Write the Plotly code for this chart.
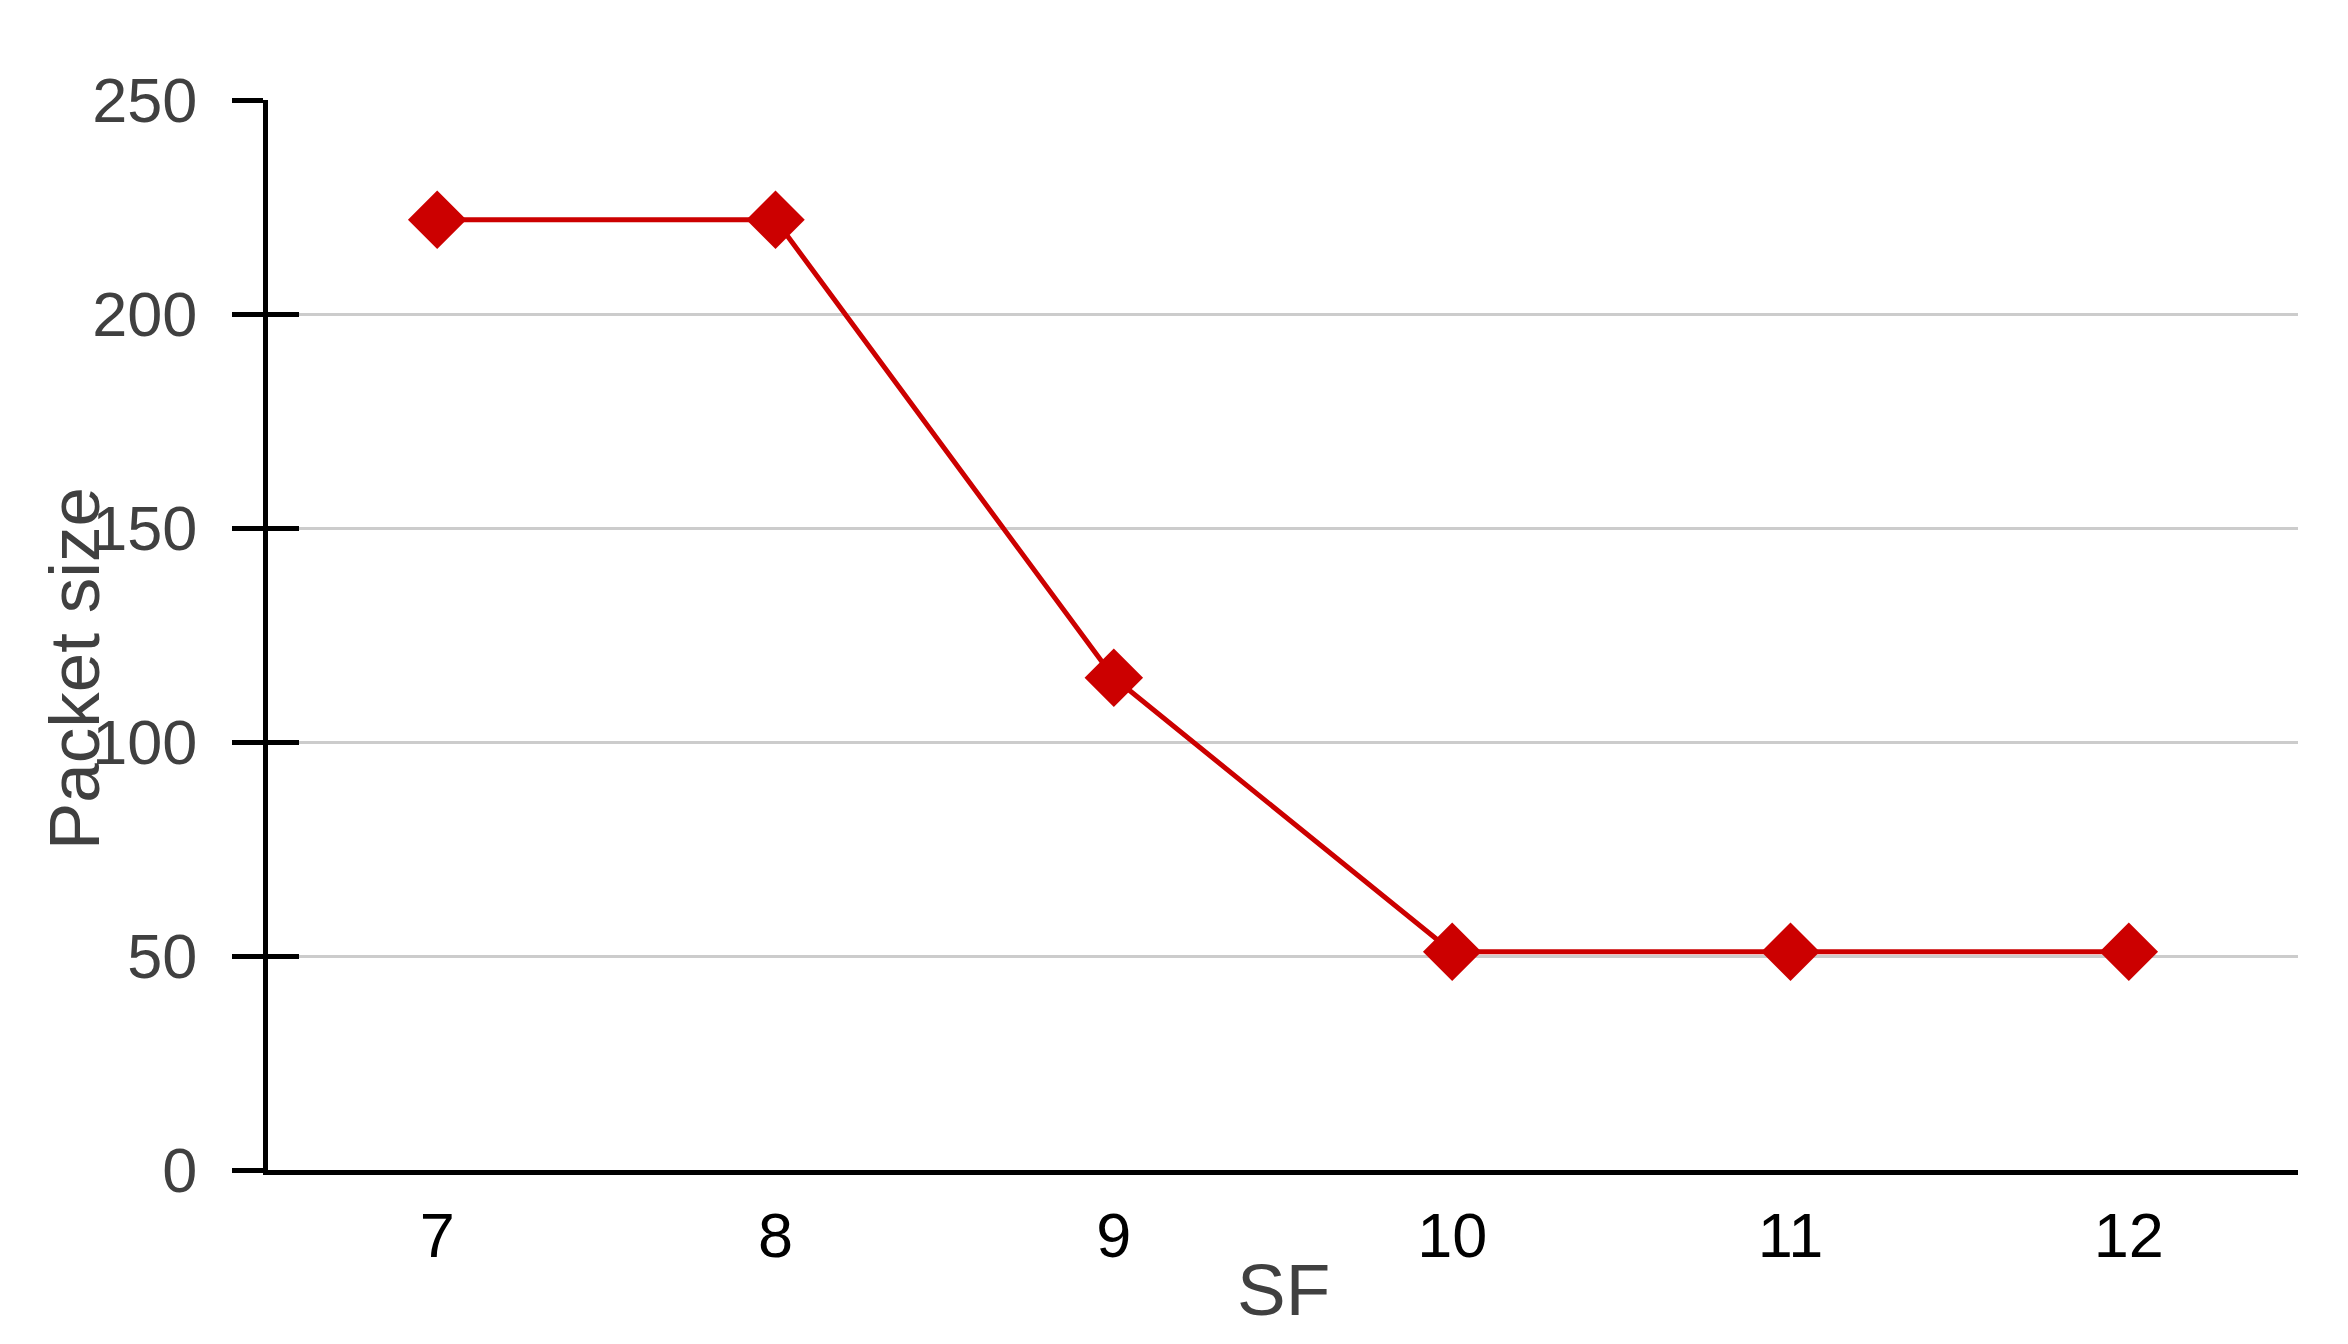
"""Packet size vs spreading factor line chart."""

import plotly.graph_objects as go

SF_VALUES = [7, 8, 9, 10, 11, 12]
PACKET_SIZE = [222, 222, 115, 51, 51, 51]
Y_TICKS = [0, 50, 100, 150, 200, 250]

RED = "#CC0000"
GREY_TEXT = "#404040"
FONT = "Liberation Sans, Arial, sans-serif"

fig = go.Figure()
fig.add_trace(
    go.Scatter(
        x=SF_VALUES,
        y=PACKET_SIZE,
        mode="lines+markers",
        line=dict(color=RED, width=5),
        marker=dict(symbol="diamond", size=45, color=RED),
        showlegend=False,
        hoverinfo="x+y",
    )
)
# invisible copy so the overlay axis (inside half of the y ticks) is drawn
fig.add_trace(
    go.Scatter(
        x=SF_VALUES,
        y=PACKET_SIZE,
        yaxis="y2",
        mode="lines",
        opacity=0,
        showlegend=False,
        hoverinfo="skip",
    )
)

fig.update_layout(
    width=2348,
    height=1344,
    paper_bgcolor="white",
    plot_bgcolor="white",
    font=dict(family=FONT),
    margin=dict(l=260, r=58, t=92, b=182),
    xaxis=dict(
        range=[6.5, 12.5],
        tickvals=SF_VALUES,
        ticks="",
        showgrid=False,
        zeroline=False,
        showline=True,
        linecolor="black",
        linewidth=5,
        tickfont=dict(size=63, color="black", family=FONT),
        ticklabelstandoff=6,
    ),
    yaxis=dict(
        range=[0, 250],
        tickvals=Y_TICKS,
        ticks="outside",
        ticklen=31,
        tickwidth=5,
        tickcolor="black",
        showline=True,
        linecolor="black",
        linewidth=5,
        showgrid=True,
        gridcolor="#cccccc",
        gridwidth=3,
        zeroline=False,
        tickfont=dict(size=63, color=GREY_TEXT, family=FONT),
        ticklabelstandoff=22,
    ),
    yaxis2=dict(
        range=[0, 250],
        tickvals=Y_TICKS,
        overlaying="y",
        side="left",
        ticks="inside",
        ticklen=31,
        tickwidth=5,
        tickcolor="black",
        showticklabels=False,
        showgrid=False,
        zeroline=False,
        showline=False,
    ),
    annotations=[
        dict(
            text="Packet size",
            xref="paper",
            yref="paper",
            x=-0.0956,
            y=0.469,
            textangle=-90,
            showarrow=False,
            font=dict(size=71, color=GREY_TEXT, family=FONT),
            xanchor="center",
            yanchor="middle",
        ),
        dict(
            text="SF",
            xref="paper",
            yref="paper",
            x=0.5,
            y=-0.1117,
            showarrow=False,
            font=dict(size=73, color=GREY_TEXT, family=FONT),
            xanchor="center",
            yanchor="middle",
        ),
    ],
)

fig.write_html("out.html")
